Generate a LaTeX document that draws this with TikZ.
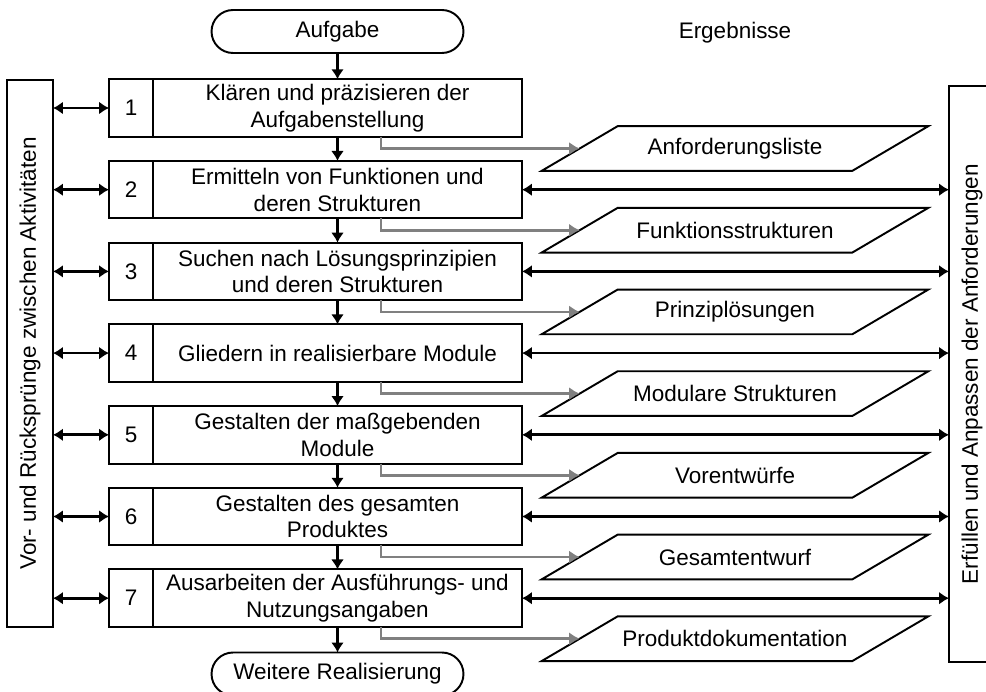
\documentclass[tikz,border=0pt]{standalone}
\usepackage{fontspec}
\setmainfont{Liberation Sans}
\usetikzlibrary{positioning,arrows.meta}

\begin{document}
\begin{tikzpicture}[x=0.02cm,y=-0.02cm,
  every node/.style={font=\fontsize{12.8}{15.2}\selectfont},
  box/.style={draw,line width=1.1pt,inner sep=2pt,outer sep=0pt},
  stepbox/.style={box,minimum width=7.38cm,minimum height=1.15cm,align=center},
  numbox/.style={box,minimum width=0.88cm,minimum height=1.15cm},
  result/.style={inner sep=2pt,minimum width=6.2cm,minimum height=0.88cm},
  term/.style={box,rounded corners=0.43cm,minimum width=5.04cm,minimum height=0.86cm},
  sidebox/.style={box,rotate=90,minimum height=0.92cm},
  flow/.style={line width=1.5pt,-{Latex[length=0.2cm,width=0.26cm]}},
  link/.style={line width=1.5pt,{Latex[length=0.2cm,width=0.26cm]}-{Latex[length=0.2cm,width=0.26cm]}},
  resarrow/.style={line width=1.5pt,black!50,-{Latex[length=0.21cm,width=0.26cm]}}]
\useasboundingbox (0,0) rectangle (986,692);
\clip (0,0) rectangle (986,692);
% start, end and heading
\node[term] (start) at (337.5,31.5) {Aufgabe};
\node (erg) at (735,33) {Ergebnisse};
\node[term] (end) at (337.5,674) {Weitere Realisierung};
% working steps 1..7
\foreach \i/\txt in {1/{Klären und präzisieren der\\Aufgabenstellung},
    2/{Ermitteln von Funktionen und\\deren Strukturen},
    3/{Suchen nach Lösungsprinzipien\\und deren Strukturen},
    4/{Gliedern in realisierbare Module},
    5/{Gestalten der maßgebenden\\Module},
    6/{Gestalten des gesamten\\Produktes},
    7/{Ausarbeiten der Ausführungs- und\\Nutzungsangaben}}{
  \node[stepbox] (s\i) at (337.5,{108+81.7*(\i-1)}) {\txt};
  \node[numbox,left=0pt of s\i] (n\i) {\i};
}
% side bars
\node[sidebox,minimum width=10.94cm] (lbox) at (30,353.5) {Vor- und Rücksprünge zwischen Aktivitäten};
\node[sidebox,minimum width=11.52cm] (rbox) at (972,374) {Erfüllen und Anpassen der Anforderungen};
% results as parallelograms (gray feeds)
\foreach \i/\txt in {1/Anforderungsliste, 2/Funktionsstrukturen, 3/Prinziplösungen,
    4/Modulare Strukturen, 5/Vorentwürfe, 6/Gesamtentwurf, 7/Produktdokumentation}{
  \node[result] (r\i) at (735,{148.5+81.7*(\i-1)}) {\txt};
  \draw[line width=1.1pt] ([xshift=-0.76cm]r\i.south west) -- ([xshift=-0.76cm]r\i.south east)
    -- ([xshift=0.76cm]r\i.north east) -- ([xshift=0.76cm]r\i.north west) -- cycle;
  \draw[resarrow] ([xshift=0.87cm]s\i.south) |- (r\i.west);
}
% main flow
\draw[flow] (start) -- (s1);
\foreach \i in {1,...,6}{
  \pgfmathtruncatemacro\j{\i+1}
  \draw[flow] (s\i) -- (s\j);
}
\draw[flow] (s7) -- (end);
% jumps back and forth, requirements
\foreach \i in {1,...,7}{\draw[link] (n\i -| lbox.south) -- (n\i);}
\foreach \i in {2,...,7}{\draw[link] (s\i) -- (s\i -| rbox.north);}
\end{tikzpicture}
\end{document}
